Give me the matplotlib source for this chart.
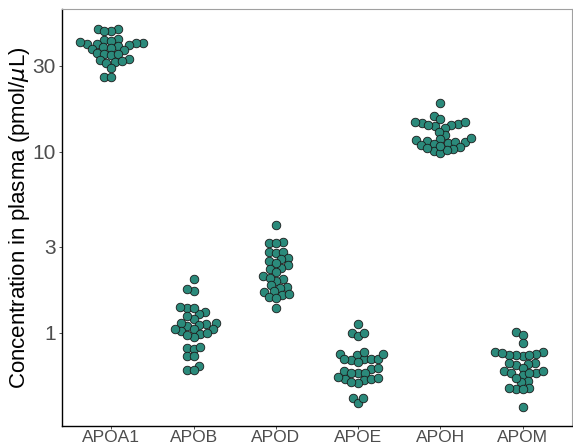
import numpy as np
import matplotlib
matplotlib.use("Agg")
from matplotlib import pyplot as plt

# data (pmol/uL)
proteins = ["APOA1", "APOB", "APOD", "APOE", "APOH", "APOM"]
apoa1 = [48.1, 47.8, 46.6, 46.6, 42.1, 41.6, 40.0, 40.0, 41.1, 39.5, 39.5,
         40.5, 39.0, 38.5, 38.0, 37.6, 37.1, 36.6, 35.2, 34.8, 34.3, 34.8, 32.6,
         32.2, 31.4, 31.0, 31.8, 29.1, 26.0, 26.0]
apob = [1.99, 1.71, 1.75, 1.31, 1.27, 1.37, 1.37, 1.39, 1.195, 1.24, 1.135, 1.12, 1.09,
        1.107, 1.135, 1.05, 0.99, 1.05, 1.03, 1.0, 1.05, 0.95, 0.975, 0.826, 0.816,
        0.837, 0.746, 0.746, 0.657, 0.625, 0.625]
apod = [3.95, 3.18, 3.14, 3.14, 2.80, 2.77, 2.80, 2.60, 2.56, 2.50, 2.37, 2.29, 2.42,
        2.26, 2.17, 2.06, 1.99, 1.94, 2.01, 1.84, 1.80, 1.78, 1.685, 1.62, 1.70,
        1.58, 1.64, 1.56, 1.37]
apoe = [1.12, 1.0, 0.962, 1.0, 0.756, 0.718, 0.718, 0.785, 0.766, 0.709, 0.718, 0.718,
        0.766, 0.692, 0.617, 0.601, 0.633, 0.601, 0.601, 0.641, 0.557, 0.550, 0.571,
        0.529, 0.536, 0.557, 0.564, 0.438, 0.410, 0.438]
apoh = [18.7, 15.8, 14.3, 14.1, 13.6, 14.6, 14.5, 13.9, 15.2, 14.1, 14.6, 12.4, 12.9,
        11.2, 11.8, 11.5, 11.4, 11.65, 11.36, 11.9, 11.07, 10.66, 10.4, 10.1,
        10.9, 9.87, 10.26, 10.5, 10.8]
apom = [1.013, 0.975, 0.881, 0.785, 0.785, 0.766, 0.746, 0.756, 0.756, 0.756, 0.775,
        0.683, 0.674, 0.666, 0.683, 0.641, 0.617, 0.601, 0.586, 0.601, 0.601, 0.617,
        0.543, 0.536, 0.564, 0.497, 0.491, 0.491, 0.497, 0.390]
groups = [apoa1, apob, apod, apoe, apoh, apom]

y_ticks = [1, 3, 10, 30]

plt.rcParams["font.family"] = ["Liberation Sans", "DejaVu Sans"]

fig = plt.figure(figsize=(5.73, 4.48), dpi=100)
ax = fig.add_axes([0.1082, 0.0491, 0.8898, 0.9309])
ax.set_yscale("log")
ax.set_xlim(0.4, 6.6)
ax.set_ylim(0.306, 61.7)


def swarm(ypix, d):
    """simple beeswarm: place points (sorted by y) at smallest offset that fits"""
    order = np.argsort(ypix)
    xs = np.zeros(len(ypix))
    placed = []
    for i in order:
        y = ypix[i]
        cands = [0.0]
        for j in placed:
            dy = abs(ypix[j] - y)
            if dy < d:
                dx = np.sqrt(d * d - dy * dy)
                cands += [xs[j] + dx, xs[j] - dx]
        cands.sort(key=lambda c: (abs(c), c))
        for c in cands:
            ok = True
            for j in placed:
                if (xs[j] - c) ** 2 + (ypix[j] - y) ** 2 < d * d - 1e-6:
                    ok = False
                    break
            if ok:
                xs[i] = c
                break
        placed.append(i)
    return xs


d_px = 7.0
fig.canvas.draw()
inv = ax.transData.inverted()
for k, vals in enumerate(groups):
    vals = np.array(vals)
    pts = ax.transData.transform(np.column_stack([np.full(len(vals), k + 1.0), vals]))
    offs = swarm(pts[:, 1], d_px)
    pts[:, 0] += offs
    data = inv.transform(pts)
    ax.scatter(data[:, 0], vals, s=38, c="#2B8A7B", edgecolors="#1a1a1a",
               linewidths=0.6, zorder=3)

ax.set_xticks(range(1, len(proteins) + 1))
ax.set_xticklabels(proteins)
ax.set_yticks(y_ticks)
ax.set_yticklabels([str(t) for t in y_ticks])
ax.yaxis.set_minor_locator(matplotlib.ticker.NullLocator())
ax.tick_params(axis="both", labelcolor="#4D4D4D", color="#333333",
               length=2.5, width=0.6)
ax.tick_params(axis="x", labelsize=12.5, pad=0.5)
ax.tick_params(axis="y", labelsize=15, pad=2)
ax.set_ylabel(r"Concentration in plasma (pmol/$\mu$L)", fontsize=16, labelpad=0)

for s in ["left", "bottom"]:
    ax.spines[s].set_color("black")
    ax.spines[s].set_linewidth(1.0)
for s in ["top", "right"]:
    ax.spines[s].set_color("#A0A0A0")
    ax.spines[s].set_linewidth(0.8)

plt.savefig("out.png", dpi=100)
plt.close()
